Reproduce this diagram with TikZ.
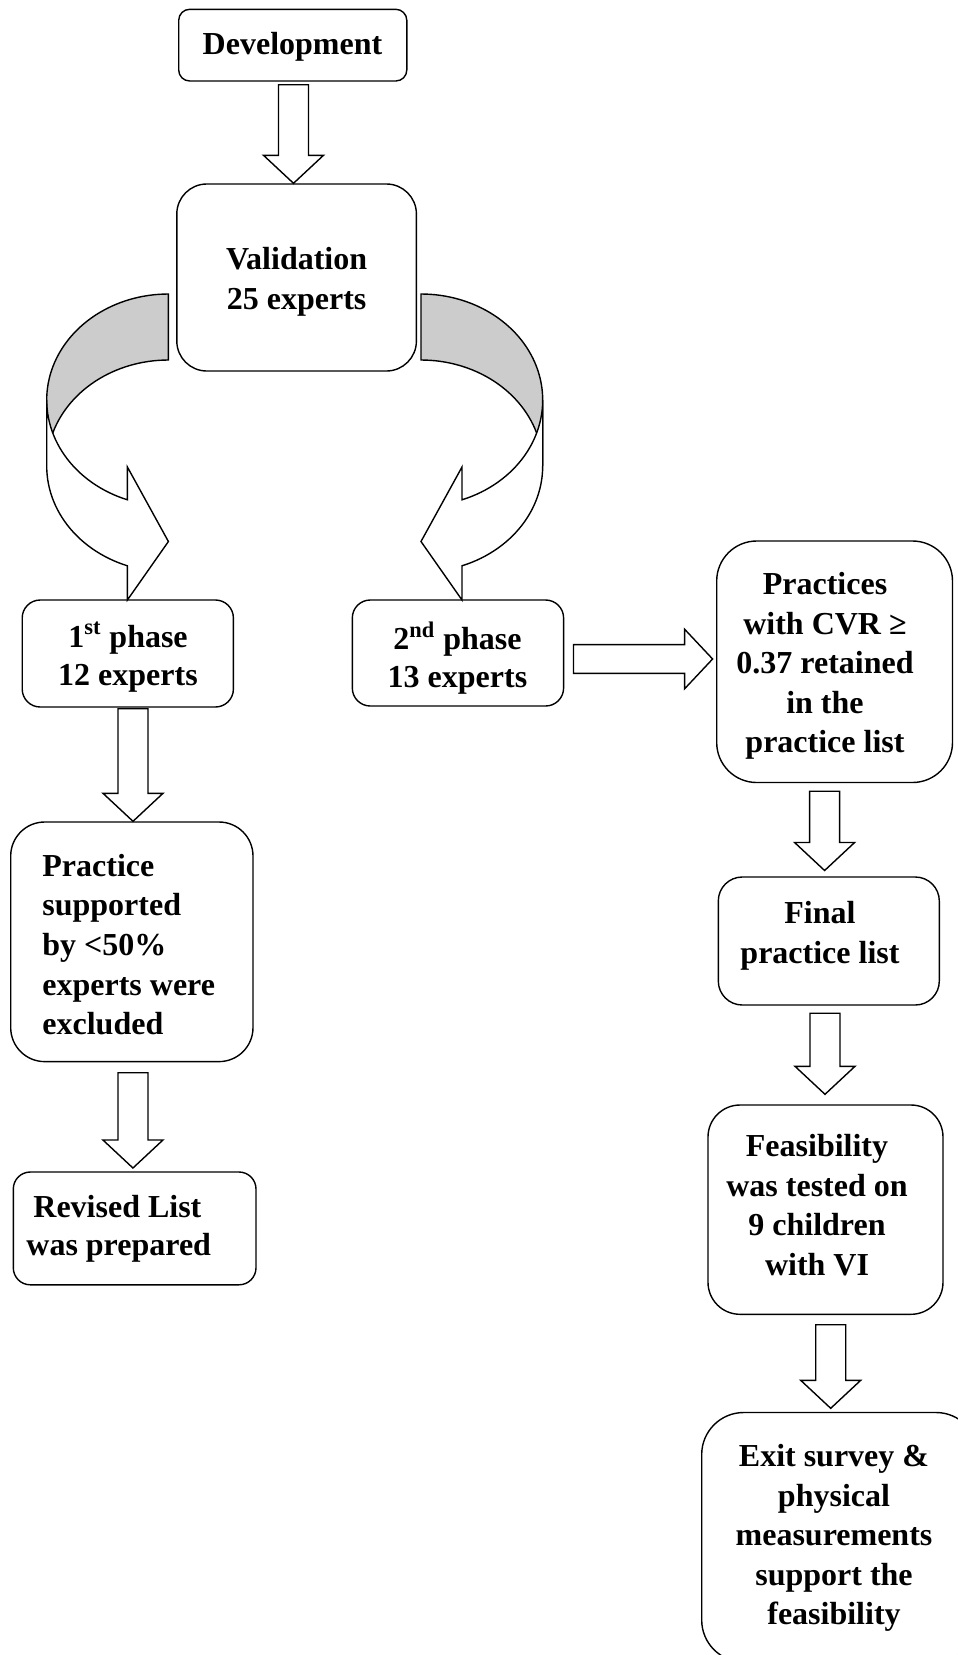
\documentclass[tikz,border=0pt]{standalone}
\usepackage{fontspec}
\setmainfont{Liberation Serif}
\usetikzlibrary{calc,fit}
\definecolor{backgray}{RGB}{204,204,204}
\tikzset{
  box/.style={draw, line width=0.7pt, inner sep=0pt, fill=white},
  txt/.style={font=\fontsize{16}{19.8}\selectfont\bfseries, align=center, inner sep=0pt},
  txtb/.style={font=\fontsize{16}{19}\selectfont\bfseries, align=center, inner sep=0pt},
  blk/.style={draw, line width=0.7pt, fill=white, line join=miter},
  back/.style={draw, line width=0.7pt, fill=backgray},
}
% vertical block arrow: start point (x from it), end point (tip y from it)
\newcommand{\vblock}[2]{\draw[blk] let \p1=(#1), \p2=(#2) in
  (\x1-7.5pt,\y1) -- (\x1+7.5pt,\y1) -- (\x1+7.5pt,\y2+14pt) -- (\x1+15pt,\y2+14pt)
  -- (\x1,\y2) -- (\x1-15pt,\y2+14pt) -- (\x1-7.5pt,\y2+14pt) -- cycle;}
% horizontal block arrow: start point (y from it), end point (tip x from it)
\newcommand{\hblock}[2]{\draw[blk] let \p1=(#1), \p2=(#2) in
  (\x1,\y1+7.2pt) -- (\x2-14pt,\y1+7.2pt) -- (\x2-14pt,\y1+14.9pt) -- (\x2,\y1)
  -- (\x2-14pt,\y1-14.9pt) -- (\x2-14pt,\y1-7.2pt) -- (\x1,\y1-7.2pt) -- cycle;}
\begin{document}
\begin{tikzpicture}[x=0.5pt,y=-0.5pt]
\useasboundingbox (0,0) rectangle (958,1655);
\clip (0,0) rectangle (958,1655);

% boxes
\node[box, rounded corners=5.5pt, fit={(178.7,9.3) (406.8,81)}] (dev) {};
\node[box, rounded corners=15pt, fit={(176.8,184) (416.4,371)}] (val) {};
\node[box, rounded corners=9pt, fit={(22.2,600) (233.4,707)}] (p1) {};
\node[box, rounded corners=9pt, fit={(352.3,600) (563.6,706)}] (p2) {};
\node[box, rounded corners=17pt, fit={(10.7,822) (253,1061.6)}] (prac) {};
\node[box, rounded corners=8.5pt, fit={(13.3,1172) (256,1284.8)}] (rev) {};
\node[box, rounded corners=20pt, fit={(716.7,541) (952.5,782.5)}] (pracs) {};
\node[box, rounded corners=12pt, fit={(718.3,877) (939.3,1005)}] (fin) {};
\node[box, rounded corners=16pt, fit={(708,1105) (943,1314.3)}] (feas) {};
\node[box, rounded corners=21pt, fit={(701.7,1412.5) (978,1662)}] (exit) {};

% texts
\node[txt] (devt) at (292.5,46.5) {Development};
\node[txt] (valt) at (296.6,282) {Validation\\25 experts};
\node[txtb] (p1t) at (128,657) {1\textsuperscript{st} phase\\12 experts};
\node[txtb] (p2t) at (457.5,658) {2\textsuperscript{nd} phase\\13 experts};
\node[txt, align=left, anchor=west] (pract) at (42,944.5) {Practice\\supported\\by <50\%\\experts were\\excluded};
\node[txtb, align=left, anchor=west] (revt) at (26,1229) {\hspace*{3.5pt}Revised List\\was prepared};
\node[txt] (pracst) at (825,666) {Practices\\with CVR ≥\\0.37 retained\\in the\\practice list};
\node[txt] (fint) at (820,936) {Final\\practice list};
\node[txt] (feast) at (817,1205) {Feasibility\\was tested on\\9 children\\with VI};
\node[txt] (exitt) at (834,1538) {Exit survey \&\\physical\\measurements\\support the\\feasibility};

% straight block arrows
\vblock{$(dev.south)+(0.75,3)$}{val.north}
\vblock{$(p1.south)+(5.2,1)$}{prac.north}
\vblock{$(prac.south)+(1.1,10.4)$}{$(rev.north)+(0,-3.3)$}
\vblock{$(pracs.south)+(-10,8)$}{$(fin.north)+(0,-5.8)$}
\vblock{$(fin.south)+(-3.8,7.5)$}{$(feas.north)+(0,-10)$}
\vblock{$(feas.south)+(5.2,9.7)$}{$(exit.north)+(0,-3.5)$}
\hblock{$(p2.east)+(9.2,6)$}{$(pracs.west)+(-3.4,0)$}

% curved arrow left (val -> p1)
\draw[back] (168.4,294) -- plot[domain=270:180,samples=40] ({168.4+121.7*cos(\x)},{400+106*sin(\x)})
  -- (46.7,466) -- plot[domain=180:270,samples=40] ({168.4+121.7*cos(\x)},{466+106*sin(\x)}) -- cycle;
\draw[blk] (46.7,400) -- plot[domain=180:109.7,samples=30] ({168.4+121.7*cos(\x)},{400+106*sin(\x)})
  -- (127.4,467) -- (168.4,541.5) -- (127.4,600)
  -- plot[domain=109.7:180,samples=30] ({168.4+121.7*cos(\x)},{466+106*sin(\x)}) -- cycle;

% curved arrow right (val -> p2)
\draw[back] (421,294) -- plot[domain=-90:0,samples=40] ({421+121.7*cos(\x)},{400+106*sin(\x)})
  -- (542.7,466) -- plot[domain=0:-90,samples=40] ({421+121.7*cos(\x)},{466+106*sin(\x)}) -- cycle;
\draw[blk] (542.7,400) -- plot[domain=0:70.3,samples=30] ({421+121.7*cos(\x)},{400+106*sin(\x)})
  -- (462,467) -- (421,541.5) -- (462,600)
  -- plot[domain=70.3:0,samples=30] ({421+121.7*cos(\x)},{466+106*sin(\x)}) -- cycle;
\end{tikzpicture}
\end{document}
